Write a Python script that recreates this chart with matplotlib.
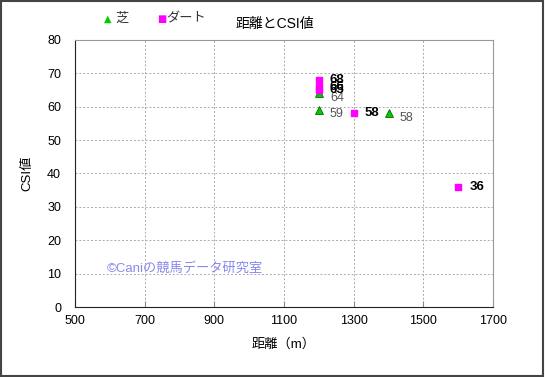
import matplotlib
matplotlib.use("Agg")
import matplotlib.pyplot as plt
from matplotlib.patches import Rectangle

plt.rcParams['font.family'] = ['Liberation Sans', 'Noto Sans CJK JP', 'DejaVu Sans']

turf_dist = [1200, 1200, 1400]
turf_csi = [64, 59, 58]
dirt_dist = [1200, 1200, 1200, 1300, 1600]
dirt_csi = [68, 66, 65, 58, 36]

xticks = [500, 700, 900, 1100, 1300, 1500, 1700]
yticks = [0, 10, 20, 30, 40, 50, 60, 70, 80]

fig = plt.figure(figsize=(5.45, 3.77), dpi=100)
ax = fig.add_axes([75/545, 1-307/377, (493-75)/545, (307-40)/377])

ax.scatter(turf_dist, turf_csi, marker='^', s=32, color='#00cc00', edgecolors='#006600', linewidths=0.6, zorder=3)
ax.scatter(dirt_dist, dirt_csi, marker='s', s=22, color='#ff00ff', edgecolors='#ff00ff', zorder=4)

for x, y in zip(turf_dist, turf_csi):
    ax.annotate(str(y), (x, y), xytext=(8, -3), textcoords='offset points', fontsize=9,
                color='#555555', va='center', ha='left')
for x, y in zip(dirt_dist, dirt_csi):
    ax.annotate(str(y), (x, y), xytext=(8, 0), textcoords='offset points', fontsize=9.5,
                color='black', fontweight='bold', va='center', ha='left')

ax.set_xlim(500, 1700)
ax.set_ylim(0, 80)
ax.set_xticks(xticks)
ax.set_yticks(yticks)
ax.tick_params(direction='in', labelsize=9, length=4, color='#888888', pad=6)
ax.tick_params(axis='y', length=0, pad=10)
ax.grid(True, linestyle=(0, (2, 2)), color='#aaaaaa', linewidth=0.7)
for s in ['top', 'right']:
    ax.spines[s].set_color('#999999')
for s in ['left', 'bottom']:
    ax.spines[s].set_color('#222222')
ax.set_xlabel('距離（m）', fontsize=9.5, labelpad=8)
ax.set_ylabel('CSI値', fontsize=9.5, labelpad=10)

ax.text(590, 11.5, '©Caniの競馬データ研究室', fontsize=9.5, color='#8888ee', va='center', ha='left')

fig.text(275/545, 1-24/377, '距離とCSI値', fontsize=10, ha='center', va='center')
fig.text(108/545, 1-19/377, '▲', fontsize=7, color='#00cc00', ha='center', va='center',
         family=['DejaVu Sans'])
fig.text(115/545, 1-19/377, '芝', fontsize=9.5, ha='left', va='center', color='#333333')
fig.text(162/545, 1-19/377, '■', fontsize=7, color='#ff00ff', ha='center', va='center',
         family=['DejaVu Sans'])
fig.text(166/545, 1-19/377, 'ダート', fontsize=9.5, ha='left', va='center', color='#333333')

fig.patches.append(Rectangle((0.002, 0.003), 0.995, 0.994, transform=fig.transFigure,
                             fill=False, edgecolor='#444444', linewidth=1.5))

fig.savefig('out.png', dpi=100)
